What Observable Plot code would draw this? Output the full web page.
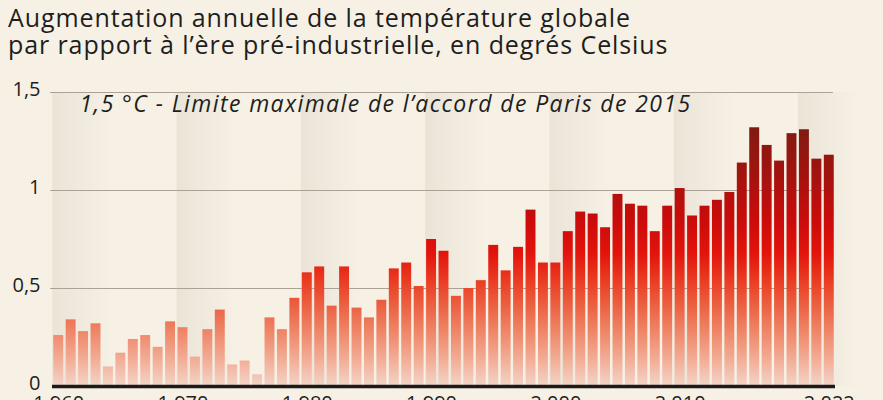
<!DOCTYPE html>
<html><head><meta charset="utf-8">
<script src="https://cdn.jsdelivr.net/npm/d3@7"></script>
<script src="https://cdn.jsdelivr.net/npm/@observablehq/plot@0.6"></script>
<style>
html,body{margin:0;padding:0;background:#f6f1e4;overflow:hidden;width:883px;height:400px}
#title{font-family:"Open Sans",sans-serif;font-size:25px;letter-spacing:0.9px;line-height:27px;color:#1e1e1e;padding:4px 0 0 8px;height:58px;box-sizing:content-box;white-space:nowrap}
#chart svg{display:block}
</style></head><body>
<div id="title">Augmentation annuelle de la température globale<br>par rapport à l’ère pré-industrielle, en degrés Celsius</div>
<div id="chart"></div>
<script>
const years = [1960,1961,1962,1963,1964,1965,1966,1967,1968,1969,
  1970,1971,1972,1973,1974,1975,1976,1977,1978,1979,
  1980,1981,1982,1983,1984,1985,1986,1987,1988,1989,
  1990,1991,1992,1993,1994,1995,1996,1997,1998,1999,
  2000,2001,2002,2003,2004,2005,2006,2007,2008,2009,
  2010,2011,2012,2013,2014,2015,2016,2017,2018,2019,
  2020,2021,2022];
const anomalies = [0.26,0.34,0.28,0.32,0.10,0.17,0.24,0.26,0.20,0.33,
  0.30,0.15,0.29,0.39,0.11,0.13,0.06,0.35,0.29,0.45,
  0.58,0.61,0.41,0.61,0.40,0.35,0.44,0.60,0.63,0.51,
  0.75,0.69,0.46,0.50,0.54,0.72,0.59,0.71,0.90,0.63,
  0.63,0.79,0.89,0.88,0.81,0.98,0.93,0.92,0.79,0.92,
  1.01,0.87,0.92,0.95,0.99,1.14,1.32,1.23,1.15,1.29,
  1.31,1.16,1.18];
const bandYears = [1960,1970,1980,1990,2000,2010,2020];
const xTicks = [1960,1970,1980,1990,2000,2010,2022];
const yTicks = [0,0.5,1,1.5];
const annotation = "1,5 °C - Limite maximale de l’accord de Paris de 2015";

const data = years.map((year, i) => ({year, value: anomalies[i]}));

const plot = Plot.plot({
  width: 883, height: 354,
  marginTop: 30, marginBottom: 30, marginLeft: 52, marginRight: 48,
  style: {background: "transparent", fontFamily: "'Open Sans', sans-serif", color: "#1e1e1e", overflow: "visible"},
  x: {type: "band", domain: years, paddingInner: 0.2, paddingOuter: 0.1, round: false, label: null},
  y: {domain: [0, 1.5], label: null},
  marks: [
    Plot.barY(bandYears, {x: d => d, y1: 0, y2: 1.5, fill: "url(#bandGrad)", insetLeft: -1, insetRight: -50}),
    Plot.ruleY([0.5, 1, 1.5], {stroke: "#a9a393", strokeWidth: 1.2, dx: -2}),
    Plot.barY(data, {x: "year", y: "value", fill: "url(#barGrad)"}),
    Plot.ruleY([0], {stroke: "#1b1b1b", strokeWidth: 3.5}),
    Plot.text([annotation], {frameAnchor: "top-left", textAnchor: "start", lineAnchor: "top", dx: 27, dy: 3, fontSize: 23, fontStyle: "italic", fill: "#1e1e1e"}),
    Plot.axisX({ticks: xTicks, tickSize: 0, tickPadding: 9, fontSize: 20, label: null}),
    Plot.axisY({ticks: yTicks, tickSize: 0, tickPadding: 12, fontSize: 20, dy: -3, label: null,
      tickFormat: d => String(d).replace(".", ",")})
  ]
});

d3.select(plot).selectAll("text").filter(function() { return this.textContent === annotation; })
  .style("letter-spacing", "1.4px");

const y = plot.scale("y");
const defs = d3.select(plot).insert("defs", ":first-child");
const g = defs.append("linearGradient").attr("id", "barGrad")
  .attr("gradientUnits", "userSpaceOnUse")
  .attr("x1", 0).attr("x2", 0)
  .attr("y1", y.apply(1.35)).attr("y2", y.apply(0));
[[0, "#7c1c13"], [0.2, "#a3130e"], [0.38, "#cc0b0b"], [0.5, "#e3140c"], [0.6, "#ea3b22"], [0.7, "#ec6244"], [0.8, "#ef886a"], [0.9, "#f2ad96"], [1, "#f3d5c7"]]
  .forEach(([o, c]) => g.append("stop").attr("offset", o).attr("stop-color", c));
const bg = defs.append("linearGradient").attr("id", "bandGrad")
  .attr("x1", 0).attr("x2", 1).attr("y1", 0).attr("y2", 0);
[[0, "#e9e4d6"], [0.2, "#ece7da"], [1, "#f6f1e4"]]
  .forEach(([o, c]) => bg.append("stop").attr("offset", o).attr("stop-color", c));

document.getElementById("chart").appendChild(plot);
</script>
</body></html>
